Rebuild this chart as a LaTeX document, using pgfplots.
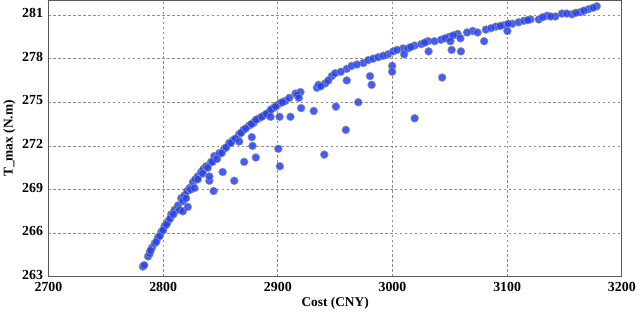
\documentclass[border=0pt]{standalone}
\usepackage{fontspec}
\setmainfont{Liberation Serif}
\usepackage{pgfplots}
\pgfplotsset{compat=1.18}
\definecolor{ptblue}{RGB}{35,65,245}
\begin{document}
\begin{tikzpicture}
\begin{axis}[
  scale only axis,
  width=577bp, height=278bp,
  xmin=2700, xmax=3200, ymin=263, ymax=282,
  xtick={2700,2800,...,3200},
  ytick={263,266,269,272,275,278,281},
  /pgf/number format/assume math mode=true,
  /pgf/number format/set thousands separator={},
  tick label style={font=\fontsize{14}{16}\selectfont\bfseries},
  xticklabel style={yshift=-2pt},
  yticklabel style={xshift=-2pt, yshift=2pt},
  label style={font=\fontsize{13.5}{16}\selectfont\bfseries},
  xlabel={Cost (CNY)},
  ylabel={T\_max (N.m)},
  xlabel style={yshift=1pt},
  ylabel style={yshift=0pt},
  major tick length=0pt,
  grid=major,
  major grid style={black!45, dash pattern=on 2.5pt off 2.5pt, line width=0.7pt},
  axis line style={black!65, line width=1pt},
  clip=false,
]
\addplot[only marks, mark=*, mark size=4pt,
  mark options={fill=ptblue, draw=black!40, line width=0.6pt, opacity=0.85}]
table {
x y
2782.3 263.7
2783.5 263.8
2786.9 264.4
2788.3 264.6
2790.3 265.0
2792.7 265.3
2795.5 265.7
2798.5 266.1
2801.3 266.5
2804.2 266.8
2807.1 267.3
2810.0 267.6
2812.9 267.9
2815.8 268.4
2818.7 268.6
2821.0 268.9
2823.0 269.1
2825.9 269.5
2828.0 269.7
2830.2 269.9
2833.1 270.2
2835.0 270.4
2837.4 270.6
2841.8 270.9
2844.6 271.3
2849.0 271.5
2853.3 271.8
2857.6 272.2
2861.0 272.4
2866.3 272.8
2870.0 273.1
2875.0 273.4
2879.0 273.6
2883.6 273.9
2888.0 274.1
2892.3 274.3
2896.0 274.6
2899.5 274.8
2902.0 274.95
2906.7 275.1
2915.4 275.6
2919.7 275.7
2934.1 276.0
2935.6 276.2
2941.4 276.3
2947.1 276.8
2950.0 277.0
2960.1 277.3
2964.4 277.5
2974.6 277.7
2978.9 277.9
2983.2 278.0
2987.6 278.1
2996.2 278.3
3000.6 278.5
3009.2 278.7
3013.5 278.7
3019.3 278.9
3025.1 279.0
3030.9 279.2
3036.6 279.2
3042.4 279.3
3049.6 279.5
3056.8 279.7
3069.9 279.9
3074.2 279.8
3081.4 280.0
3090.1 280.2
3097.3 280.3
3104.5 280.4
3110.0 280.5
3114.6 280.6
3120.4 280.7
3127.6 280.7
3134.8 280.95
3142.0 280.9
3147.8 281.1
3156.5 281.05
3163.7 281.2
3170.9 281.4
3178.1 281.6
2789.0 264.8
2794.0 265.4
2797.0 265.8
2800.0 266.2
2803.0 266.6
2806.0 267.0
2809.0 267.3
2814.3 267.6
2817.2 268.2
2820.0 268.4
2824.0 269.0
2827.3 269.1
2830.2 269.7
2834.5 270.1
2838.9 270.5
2843.0 270.9
2847.0 271.1
2851.0 271.5
2855.0 271.9
2859.0 272.2
2863.0 272.5
2868.0 272.9
2872.0 273.2
2877.0 273.5
2881.0 273.8
2886.0 274.0
2890.0 274.2
2894.0 274.5
2898.0 274.7
2904.0 275.0
2910.0 275.3
2917.0 275.5
2937.5 276.1
2944.0 276.5
2955.0 277.1
2969.0 277.6
2992.0 278.2
3004.0 278.6
3016.0 278.8
3028.0 279.1
3046.0 279.4
3053.0 279.6
3065.0 279.8
3086.0 280.1
3094.0 280.25
3101.0 280.4
3118.0 280.65
3131.0 280.85
3138.0 280.9
3152.0 281.1
3160.0 281.15
3167.0 281.3
3175.0 281.5
2817.2 267.5
2821.5 267.8
2840.3 269.6
2844.0 268.9
2862.0 269.6
2851.9 270.2
2870.6 270.9
2880.8 271.2
2901.8 270.6
2877.3 272.6
2877.9 272.0
2866.3 272.3
2840.3 269.9
2900.4 271.8
2901.5 274.0
2911.0 274.0
2920.3 274.6
2931.3 274.4
2940.5 271.4
2893.7 274.0
2918.3 275.3
2950.6 274.7
2959.3 273.1
2960.1 276.5
2970.2 275.0
2980.4 276.8
2981.8 276.2
2999.7 277.5
2999.7 277.1
3019.3 273.9
3010.1 278.3
3031.5 278.5
3043.3 276.7
3050.5 279.2
3051.6 278.6
3059.7 278.5
3059.2 279.4
3079.9 279.2
3100.2 279.9
};
\end{axis}
\end{tikzpicture}
\end{document}
